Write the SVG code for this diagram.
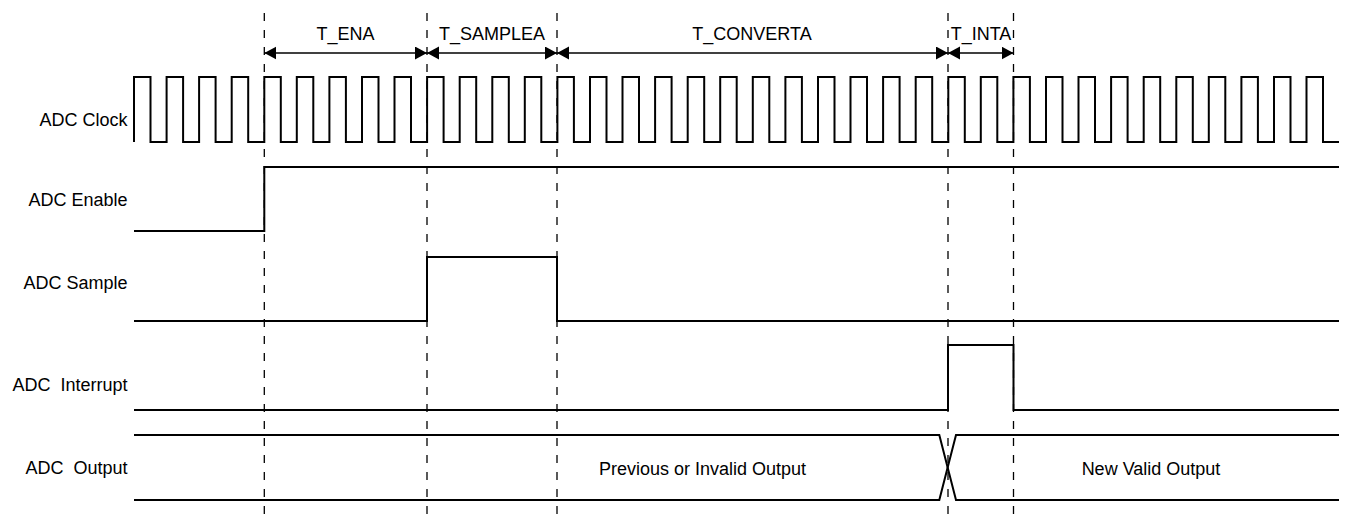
<svg xmlns="http://www.w3.org/2000/svg" width="1346" height="521" viewBox="0 0 1346 521">
<style>
.bg{fill:#fff}
.wave{fill:none;stroke:#000;stroke-width:2;stroke-linejoin:miter}
.dash{stroke:#000;stroke-width:1.3;stroke-dasharray:8 9;fill:none}
.dim{stroke:#000;stroke-width:1.3;fill:none;marker-start:url(#ah);marker-end:url(#ah)}
text{font-family:"Liberation Sans",Arial,sans-serif;font-size:18px;fill:#000}
.lbl{text-anchor:end}
.mid{text-anchor:middle}
</style>
<defs>
<marker id="ah" markerUnits="userSpaceOnUse" markerWidth="13" markerHeight="14" refX="12" refY="6.5" orient="auto-start-reverse">
<path d="M0,0 L12,6.5 L0,13 Z" fill="#000"/>
</marker>
</defs>
<rect class="bg" x="0" y="0" width="1346" height="521"/>
<g id="guides">
<line class="dash" x1="264.3" y1="13" x2="264.3" y2="521"/>
<line class="dash" x1="427" y1="13" x2="427" y2="521"/>
<line class="dash" x1="557" y1="13" x2="557" y2="521"/>
<line class="dash" x1="948" y1="13" x2="948" y2="521"/>
<line class="dash" x1="1013.5" y1="13" x2="1013.5" y2="521"/>
</g>
<g id="connectors">
<line class="dim" x1="264.3" y1="53" x2="427" y2="53"/>
<line class="dim" x1="427" y1="53" x2="557" y2="53"/>
<line class="dim" x1="557" y1="53" x2="948" y2="53"/>
<line class="dim" x1="948" y1="53" x2="1013.5" y2="53"/>
</g>
<g id="timing-labels">
<text class="mid" x="345.5" y="40">T_ENA</text>
<text class="mid" x="492" y="40">T_SAMPLEA</text>
<text class="mid" x="752" y="40">T_CONVERTA</text>
<text class="mid" x="981" y="40">T_INTA</text>
</g>
<g id="adc-clock">
<text class="lbl" x="127.5" y="126">ADC Clock</text>
<path class="wave" d="M134,142 V77 H150.5 V142 H166.6 V77 H183.1 V142 H199.1 V77 H215.6 V142 H231.7 V77 H248.2 V142 H264.3 V77 H280.8 V142 H296.8 V77 H313.3 V142 H329.4 V77 H345.9 V142 H362 V77 H378.5 V142 H394.5 V77 H411 V142 H427.1 V77 H443.6 V142 H459.7 V77 H476.2 V142 H492.3 V77 H508.8 V142 H524.8 V77 H541.3 V142 H557.4 V77 H573.9 V142 H590 V77 H606.5 V142 H622.5 V77 H639 V142 H655.1 V77 H671.6 V142 H687.7 V77 H704.2 V142 H720.2 V77 H736.7 V142 H752.8 V77 H769.3 V142 H785.4 V77 H801.9 V142 H818 V77 H834.5 V142 H850.5 V77 H867 V142 H883.1 V77 H899.6 V142 H915.7 V77 H932.2 V142 H948.3 V77 H964.8 V142 H980.8 V77 H997.3 V142 H1013.4 V77 H1029.9 V142 H1046 V77 H1062.5 V142 H1078.5 V77 H1095 V142 H1111.1 V77 H1127.6 V142 H1143.7 V77 H1160.2 V142 H1176.3 V77 H1192.8 V142 H1208.8 V77 H1225.3 V142 H1241.4 V77 H1257.9 V142 H1274 V77 H1290.5 V142 H1306.5 V77 H1323 V142 H1339"/>
</g>
<g id="adc-enable">
<text class="lbl" x="127.5" y="206">ADC Enable</text>
<path class="wave" d="M134,231 H264.3 V167 H1339"/>
</g>
<g id="adc-sample">
<text class="lbl" x="127.5" y="289">ADC Sample</text>
<path class="wave" d="M134,321 H427 V257 H557 V321 H1339"/>
</g>
<g id="adc-interrupt">
<text class="lbl" x="127.5" y="391" xml:space="preserve">ADC  Interrupt</text>
<path class="wave" d="M134,410 H948 V345 H1013.5 V410 H1339"/>
</g>
<g id="adc-output">
<text class="lbl" x="127.5" y="474" xml:space="preserve">ADC  Output</text>
<path class="wave" d="M134,435 H939.3 L956,500 H1339"/>
<path class="wave" d="M134,500 H939.3 L956,435 H1339"/>
<text class="mid" x="702.5" y="475">Previous or Invalid Output</text>
<text class="mid" x="1151" y="475">New Valid Output</text>
</g>
</svg>
